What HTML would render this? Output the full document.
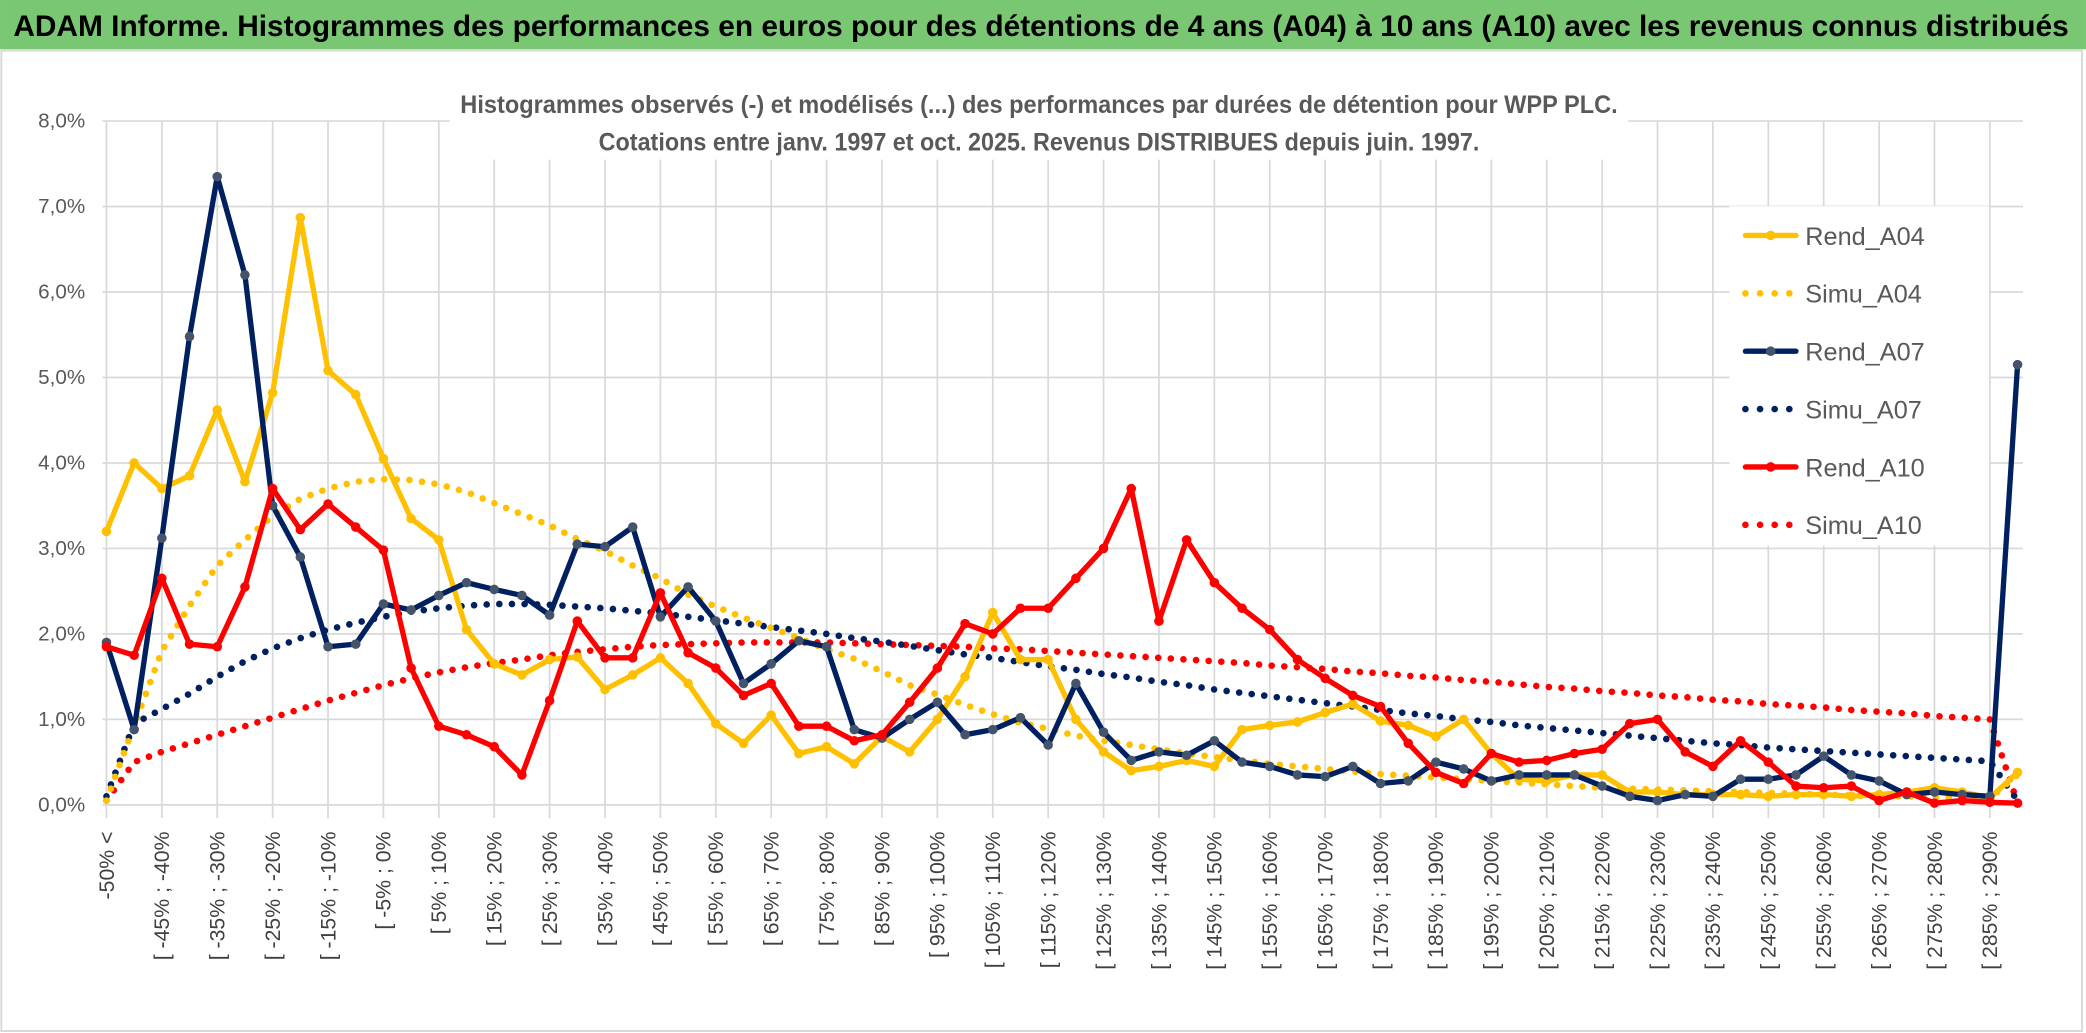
<!DOCTYPE html>
<html><head><meta charset="utf-8"><title>ADAM Informe WPP PLC</title>
<style>
html,body{margin:0;padding:0;background:#fff;}
svg{display:block;}
text{font-family:"Liberation Sans",sans-serif;}
</style></head>
<body>
<svg id="chart" width="2086" height="1033" viewBox="0 0 1568 776.5" xmlns="http://www.w3.org/2000/svg">
  <rect x="0" y="0" width="1568" height="776.5" fill="#fff"/>
  <rect x="0" y="0" width="1568" height="37" fill="#7ac773"/>
  <text x="10" y="27" font-size="22" font-weight="bold" fill="#000" textLength="1545" lengthAdjust="spacingAndGlyphs">ADAM Informe. Histogrammes des performances en euros pour des détentions de 4 ans (A04) à 10 ans (A10) avec les revenus connus distribués</text>
  <rect x="1" y="38" width="1564" height="737" fill="none" stroke="#d9d9d9" stroke-width="1.5"/>
  <g id="grid"></g>
  <g id="axes"></g>
  <g id="series"></g>
  <rect x="338" y="62" width="886" height="58" fill="#fff"/>
  <text x="781" y="85" font-size="18.5" font-weight="bold" fill="#595959" text-anchor="middle" textLength="870" lengthAdjust="spacingAndGlyphs">Histogrammes observés (-) et modélisés (...) des performances par durées de détention pour WPP PLC.</text>
  <text x="781" y="113" font-size="18.5" font-weight="bold" fill="#595959" text-anchor="middle" textLength="662" lengthAdjust="spacingAndGlyphs">Cotations entre janv. 1997 et oct. 2025. Revenus DISTRIBUES depuis juin. 1997.</text>
  <g id="legend"></g>
</svg>
<script>
const categories = [];
categories.push('-50% <');
for (let k = 1; k <= 69; k++) { categories.push('[ ' + (-55 + 5 * k) + '% ; ' + (-50 + 5 * k) + '%'); }
const yTicks = [0, 1, 2, 3, 4, 5, 6, 7, 8];
const yTickLabels = ['0,0%', '1,0%', '2,0%', '3,0%', '4,0%', '5,0%', '6,0%', '7,0%', '8,0%'];
const rendA04 = [3.2,4.0,3.7,3.85,4.62,3.78,4.82,6.87,5.08,4.8,4.05,3.35,3.1,2.05,1.65,1.52,1.7,1.73,1.35,1.52,1.72,1.42,0.95,0.72,1.05,0.6,0.68,0.48,0.8,0.62,1.0,1.5,2.25,1.7,1.7,1.0,0.62,0.4,0.45,0.52,0.45,0.88,0.93,0.97,1.08,1.18,0.98,0.93,0.8,1.0,0.6,0.3,0.28,0.35,0.35,0.15,0.15,0.12,0.12,0.12,0.1,0.12,0.12,0.1,0.12,0.15,0.2,0.15,0.08,0.38];
const simuA04 = [0.05,0.93,1.8,2.33,2.8,3.1,3.38,3.58,3.7,3.78,3.81,3.8,3.75,3.66,3.53,3.4,3.27,3.11,2.97,2.8,2.65,2.46,2.32,2.19,2.07,1.95,1.82,1.71,1.56,1.4,1.29,1.17,1.06,0.96,0.89,0.81,0.75,0.7,0.65,0.6,0.56,0.52,0.48,0.45,0.42,0.39,0.36,0.34,0.32,0.3,0.28,0.26,0.24,0.22,0.2,0.19,0.18,0.17,0.16,0.15,0.14,0.13,0.12,0.11,0.1,0.1,0.09,0.09,0.08,0.35];
const rendA07 = [1.9,0.88,3.12,5.48,7.35,6.2,3.5,2.9,1.85,1.88,2.35,2.28,2.45,2.6,2.52,2.45,2.22,3.05,3.02,3.25,2.2,2.55,2.15,1.42,1.65,1.92,1.85,0.88,0.78,1.0,1.2,0.82,0.88,1.02,0.7,1.42,0.85,0.52,0.62,0.58,0.75,0.5,0.45,0.35,0.33,0.45,0.25,0.28,0.5,0.42,0.28,0.35,0.35,0.35,0.22,0.1,0.05,0.12,0.1,0.3,0.3,0.35,0.57,0.35,0.28,0.12,0.15,0.12,0.1,5.15];
const simuA07 = [0.1,0.95,1.12,1.3,1.5,1.68,1.83,1.95,2.05,2.13,2.2,2.26,2.3,2.33,2.35,2.35,2.34,2.32,2.3,2.27,2.24,2.2,2.16,2.12,2.08,2.04,2.0,1.95,1.91,1.86,1.81,1.76,1.72,1.67,1.62,1.58,1.53,1.49,1.44,1.4,1.35,1.31,1.27,1.23,1.19,1.15,1.11,1.07,1.04,1.0,0.97,0.93,0.9,0.87,0.84,0.81,0.78,0.75,0.72,0.7,0.67,0.65,0.63,0.61,0.59,0.57,0.55,0.53,0.51,0.05];
const rendA10 = [1.85,1.75,2.65,1.88,1.85,2.55,3.7,3.22,3.52,3.25,2.98,1.6,0.92,0.82,0.68,0.35,1.22,2.15,1.72,1.72,2.48,1.78,1.6,1.28,1.42,0.92,0.92,0.75,0.82,1.2,1.6,2.12,2.0,2.3,2.3,2.65,3.0,3.7,2.15,3.1,2.6,2.3,2.05,1.7,1.48,1.28,1.15,0.72,0.38,0.25,0.6,0.5,0.52,0.6,0.65,0.95,1.0,0.62,0.45,0.75,0.5,0.22,0.2,0.22,0.05,0.15,0.02,0.05,0.03,0.02];
const simuA10 = [0.05,0.5,0.62,0.72,0.82,0.92,1.02,1.12,1.22,1.31,1.4,1.48,1.55,1.61,1.66,1.7,1.75,1.79,1.82,1.85,1.87,1.88,1.89,1.9,1.9,1.9,1.9,1.89,1.88,1.87,1.86,1.85,1.83,1.82,1.8,1.78,1.76,1.74,1.72,1.7,1.68,1.66,1.63,1.61,1.59,1.56,1.54,1.51,1.49,1.46,1.44,1.41,1.38,1.36,1.33,1.31,1.28,1.26,1.23,1.21,1.18,1.16,1.14,1.11,1.09,1.07,1.04,1.02,1.0,0.02];

const NS = 'http://www.w3.org/2000/svg';
const X0 = 80, DX = 20.82, Y0 = 605, YPX = 64.25;
function xScale(i) { return X0 + DX * i; }
function yScale(v) { return Y0 - v * YPX; }
function mk(tag, attrs, parent) {
  const e = document.createElementNS(NS, tag);
  for (const k in attrs) e.setAttribute(k, attrs[k]);
  parent.appendChild(e);
  return e;
}
const grid = document.getElementById('grid');
const axes = document.getElementById('axes');
const series = document.getElementById('series');
const legend = document.getElementById('legend');
const xRight = xScale(categories.length - 1) + 4;

yTicks.forEach((t, j) => {
  const l = mk('line', {x1: X0 - 3, x2: xRight, y1: yScale(t), y2: yScale(t), stroke: '#d9d9d9', 'stroke-width': 1.3}, grid);
  
  
  const tx = mk('text', {x: 64, y: yScale(t) + 5, 'font-size': 15.5, fill: '#595959', 'text-anchor': 'end'}, axes);
  tx.textContent = yTickLabels[j];
  
  
});
categories.forEach((c, i) => {
  if (i % 2 !== 0) return;
  const x = xScale(i);
  const l = mk('line', {x1: x, x2: x, y1: yScale(8), y2: Y0 + 10, stroke: '#d9d9d9', 'stroke-width': 1.3}, grid);
  
  
  const tx = mk('text', {x: 0, y: 0, 'font-size': 16, fill: '#404040', 'text-anchor': 'end', transform: 'translate(' + (x + 5.5) + ',' + (Y0 + 20) + ') rotate(-90)'}, axes);
  tx.textContent = c;
  
  
});

function pathD(arr) { return arr.map((v, i) => (i ? 'L' : 'M') + xScale(i).toFixed(2) + ' ' + yScale(v).toFixed(2)).join(' '); }
function dotted(arr, color, name) {
  const p = mk('path', {d: pathD(arr), fill: 'none', stroke: color, 'stroke-width': 5, 'stroke-linecap': 'round', 'stroke-dasharray': '0 9.5'}, series);
  
  
}
function solid(arr, color, mcolor, name) {
  const g = mk('g', {}, series);
  
  
  mk('path', {d: pathD(arr), fill: 'none', stroke: color, 'stroke-width': 4, 'stroke-linejoin': 'round'}, g);
  arr.forEach((v, i) => {
    const c = mk('circle', {cx: xScale(i), cy: yScale(v), r: 3.6, fill: mcolor}, g);
    
    
  });
}
dotted(simuA10, '#ff0000', 'simu-a10-line');
dotted(simuA07, '#002060', 'simu-a07-line');
dotted(simuA04, '#ffc000', 'simu-a04-line');
solid(rendA04, '#ffc000', '#ffc000', 'rend-a04-line');
solid(rendA07, '#002060', '#44546a', 'rend-a07-line');
solid(rendA10, '#ff0000', '#ff0000', 'rend-a10-line');

const lbg = mk('rect', {x: 1300, y: 155, width: 195, height: 255, fill: '#fff'}, legend);


const legendNames = ['Rend_A04', 'Simu_A04', 'Rend_A07', 'Simu_A07', 'Rend_A10', 'Simu_A10'];
const legendColors = ['#ffc000', '#ffc000', '#002060', '#002060', '#ff0000', '#ff0000'];
const legendMarker = ['#ffc000', null, '#44546a', null, '#ff0000', null];
legendNames.forEach((n, j) => {
  const y = 177 + j * 43.5;
  const g = mk('g', {}, legend);
  
  
  if (legendMarker[j]) {
    mk('line', {x1: 1312, x2: 1350, y1: y, y2: y, stroke: legendColors[j], 'stroke-width': 4, 'stroke-linecap': 'round'}, g);
    mk('circle', {cx: 1331, cy: y, r: 3.6, fill: legendMarker[j]}, g);
  } else {
    mk('line', {x1: 1312, x2: 1350, y1: y, y2: y, stroke: legendColors[j], 'stroke-width': 5, 'stroke-linecap': 'round', 'stroke-dasharray': '0 11'}, g);
  }
  const t = mk('text', {x: 1357, y: y + 7, 'font-size': 19, fill: '#595959'}, g);
  t.textContent = n;
});
</script>
</body></html>
